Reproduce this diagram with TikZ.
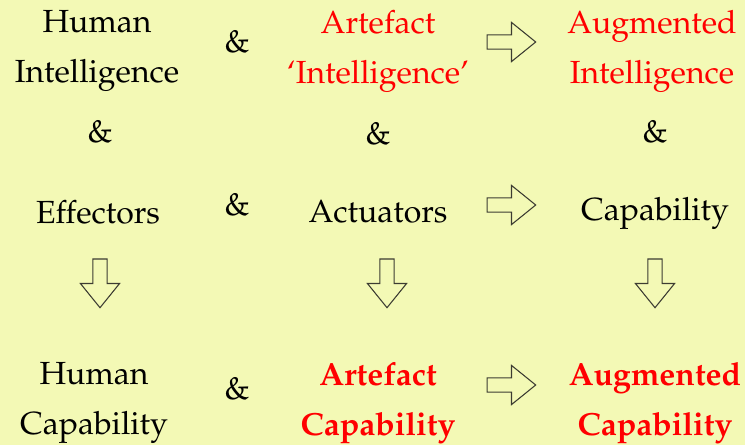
\documentclass[tikz,border=0pt]{standalone}
\usepackage[T1]{fontenc}
\usepackage{mathpazo}
\usepackage{tikz}
\usetikzlibrary{shapes.arrows}
\definecolor{bg_yellow}{RGB}{243, 249, 181}
\definecolor{ai_red}{RGB}{255, 0, 0}
\definecolor{arr_grey}{RGB}{60, 60, 50}
\tikzstyle{txt}=[align=center,inner sep=0pt,font=\fontsize{24}{37.5}\selectfont]
\tikzstyle{rtxt}=[txt,text=ai_red]
\tikzstyle{btxt}=[rtxt,font=\fontsize{24}{37.5}\selectfont\bfseries]
\tikzstyle{amp}=[txt]
\tikzstyle{rarr}=[single arrow,draw=arr_grey,line width=0.8pt,inner sep=4.9pt,
  minimum height=36.5pt,single arrow head extend=9.4pt,
  single arrow tip angle=78]
\tikzstyle{darr}=[rarr,shape border rotate=270]

\begin{document}
\begin{tikzpicture}[x=0.75pt,y=-0.75pt]
            \useasboundingbox (0,0) rectangle (745,445);
            \fill [bg_yellow] (0,0) rectangle (745,445);
            % top row
            \node [style=txt] (0) at (97, 51) {Human\\Intelligence};
            \node [style=amp] (1) at (237, 42) {\&};
            \node [style=rtxt] (2) at (378, 51) {Artefact\\`Intelligence'};
            \node [style=rarr] (3) at (507, 42) {};
            \node [style=rtxt] (4) at (652, 51) {Augmented\\Intelligence};
            % vertical ands
            \node [style=amp] (5) at (100, 132) {\&};
            \node [style=amp] (6) at (378, 134) {\&};
            \node [style=amp] (7) at (655, 132) {\&};
            % second row
            \node [style=txt] (8) at (98, 212) {Effectors};
            \node [style=amp] (9) at (237, 205) {\&};
            \node [style=txt] (10) at (378, 212) {Actuators};
            \node [style=rarr] (11) at (507, 205) {};
            \node [style=txt] (12) at (655, 213) {Capability};
            % down arrows
            \node [style=darr] (13) at (100, 279) {};
            \node [style=darr] (14) at (387, 279) {};
            \node [style=darr] (15) at (655, 279) {};
            % bottom row
            \node [style=txt] (16) at (94, 403) {Human\\Capability};
            \node [style=amp] (17) at (237, 389) {\&};
            \node [style=btxt] (18) at (378, 403) {Artefact\\Capability};
            \node [style=rarr] (19) at (507, 385) {};
            \node [style=btxt] (20) at (655, 403) {Augmented\\Capability};
    \end{tikzpicture}
\end{document}
